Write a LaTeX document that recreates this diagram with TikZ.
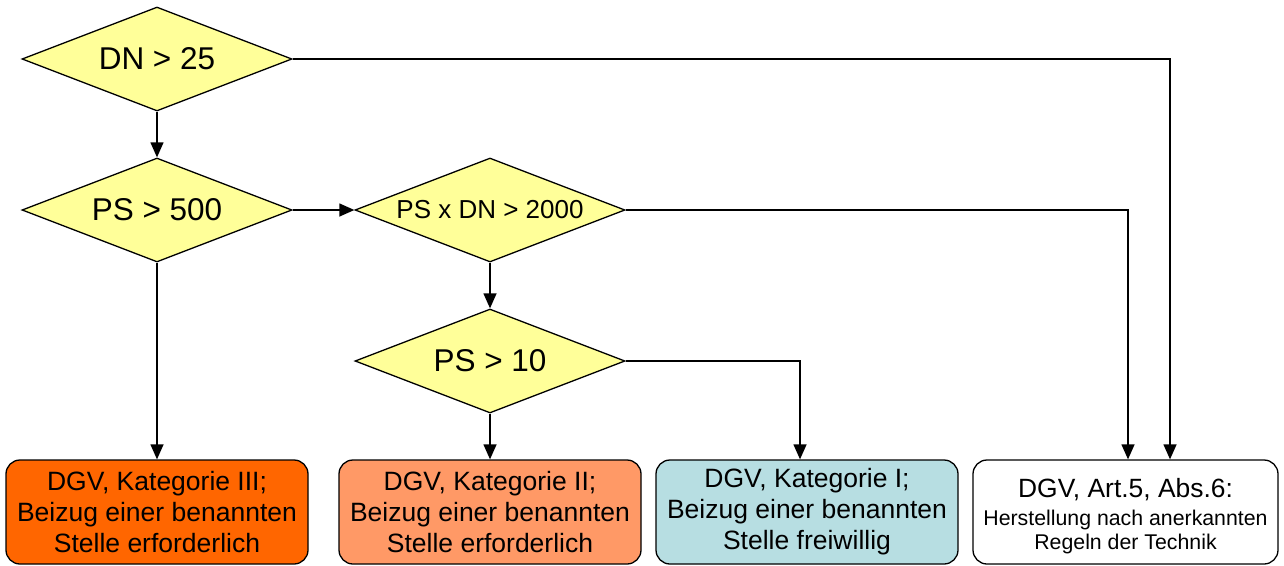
\documentclass[tikz,border=0pt]{standalone}
\usepackage{fontspec}
\setmainfont{Liberation Sans}
\usetikzlibrary{shapes.geometric,arrows.meta}
\definecolor{dyellow}{RGB}{255,255,153}
\definecolor{kat3}{RGB}{255,102,0}
\definecolor{kat2}{RGB}{255,153,102}
\definecolor{kat1}{RGB}{183,222,226}
\tikzset{
  dec/.style={diamond, draw=black, line width=1.3pt, fill=dyellow, aspect=2.6,
    minimum width=270pt, minimum height=104pt, inner sep=0pt, font=\fontsize{31.5}{36}\selectfont},
  box/.style={draw=black, line width=1.3pt, rounded corners=14pt, minimum width=302pt,
    minimum height=104pt, inner sep=0pt, align=center, font=\fontsize{26.5}{31}\selectfont},
  boxline/.style={anchor=base, inner sep=0pt},
  conn/.style={line width=1.3pt, -{Triangle[length=15pt,width=13pt]}},
}
\begin{document}
\begin{tikzpicture}[x=1pt,y=-1pt]
\useasboundingbox (0,0) rectangle (1284,565);
\node[dec] (d1) at (157,59) {DN > 25};
\node[dec] (d2) at (157,210) {PS > 500};
\node[dec, font=\fontsize{26}{31}\selectfont] (d3) at (490,210) {PS x DN > 2000};
\node[dec] (d4) at (490,361) {PS > 10};
\node[box, fill=kat3] (b1) at (157,512) {DGV, Kategorie III;\\Beizug einer benannten\\Stelle erforderlich};
\node[box, fill=kat2] (b2) at (490,512) {DGV, Kategorie II;\\Beizug einer benannten\\Stelle erforderlich};
\node[box, fill=kat1] (b3) at (807,512) {DGV, Kategorie I;\\Beizug einer benannten\\Stelle freiwillig};
\node[box, fill=white, minimum width=305pt] (b4) at (1125.5,512) {};
\node[boxline, font=\fontsize{26.4}{31}\selectfont] (b4a) at (1125.5,497) {DGV, Art.5, Abs.6:};
\node[boxline, font=\fontsize{21.3}{25}\selectfont] (b4b) at (1125.5,525) {Herstellung nach anerkannten};
\node[boxline, font=\fontsize{21.3}{25}\selectfont] (b4c) at (1125.5,549) {Regeln der Technik};
\coordinate (c1) at (1170,59);
\coordinate (c2) at (1128,210);
\coordinate (c3) at (800,361);
\draw[conn] (d1.south) -- (d2.north);
\draw[conn] (d2.east) -- (d3.west);
\draw[conn] (d2.south) -- (b1.north -| d2.south);
\draw[conn] (d3.south) -- (d4.north);
\draw[conn] (d4.south) -- (b2.north -| d4.south);
\draw[conn] (d1.east) -- (c1) -- (b4.north -| c1);
\draw[conn] (d3.east) -- (c2) -- (b4.north -| c2);
\draw[conn] (d4.east) -- (c3) -- (b3.north -| c3);
\end{tikzpicture}
\end{document}
